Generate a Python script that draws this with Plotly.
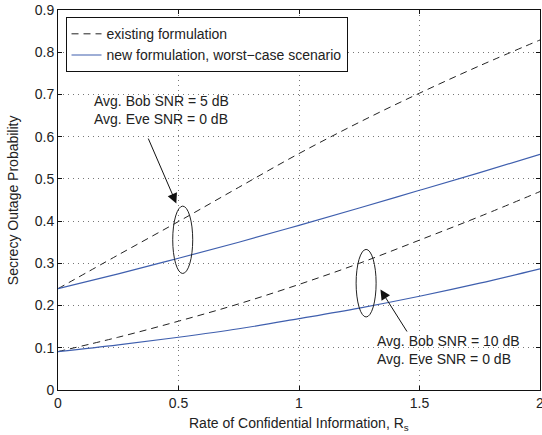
import plotly.graph_objects as go

# Data
rate = [0, 0.25, 0.5, 0.75, 1.0, 1.25, 1.5, 1.75, 2.0]
exist_5db = [0.240, 0.320, 0.399, 0.480, 0.560, 0.634, 0.703, 0.768, 0.829]
new_5db = [0.240, 0.275, 0.312, 0.350, 0.390, 0.431, 0.473, 0.515, 0.558]
exist_10db = [0.091, 0.125, 0.163, 0.204, 0.250, 0.300, 0.355, 0.411, 0.470]
new_10db = [0.091, 0.107, 0.125, 0.145, 0.169, 0.194, 0.222, 0.253, 0.287]

x_ticks = [0, 0.5, 1, 1.5, 2]
x_tick_text = ["0", "0.5", "1", "1.5", "2"]
y_ticks = [0, 0.1, 0.2, 0.3, 0.4, 0.5, 0.6, 0.7, 0.8, 0.9]
y_tick_text = ["0", "0.1", "0.2", "0.3", "0.4", "0.5", "0.6", "0.7", "0.8", "0.9"]

FONT = "Liberation Sans, Arial, Helvetica, sans-serif"
FS = 14
BLUE = "#3f5fae"
DASH = "#222222"

fig = go.Figure()
fig.add_trace(go.Scatter(x=rate, y=exist_5db, mode="lines", name="existing formulation",
                         line=dict(color=DASH, width=1, dash="7px,5px", shape="spline"),
                         legendgroup="a"))
fig.add_trace(go.Scatter(x=rate, y=new_5db, mode="lines",
                         name="new formulation, worst\u2212case scenario",
                         line=dict(color=BLUE, width=1.2, shape="spline"), legendgroup="b"))
fig.add_trace(go.Scatter(x=rate, y=exist_10db, mode="lines", showlegend=False,
                         line=dict(color=DASH, width=1, dash="7px,5px", shape="spline"),
                         legendgroup="a"))
fig.add_trace(go.Scatter(x=rate, y=new_10db, mode="lines", showlegend=False,
                         line=dict(color=BLUE, width=1.2, shape="spline"), legendgroup="b"))

# Ellipses
fig.add_shape(type="circle", xref="x", yref="y", x0=0.476, x1=0.559, y0=0.276, y1=0.4355,
              line=dict(color="#222", width=1))
fig.add_shape(type="circle", xref="x", yref="y", x0=1.237, x1=1.320, y0=0.173, y1=0.333,
              line=dict(color="#222", width=1))

# Arrows
fig.add_annotation(x=0.491, y=0.442, ax=0.372, ay=0.599, xref="x", yref="y",
                   axref="x", ayref="y", text="", showarrow=True, arrowhead=2,
                   arrowsize=2, arrowwidth=1, arrowcolor="#111", standoff=0, startstandoff=0)
fig.add_annotation(x=1.338, y=0.238, ax=1.452, ay=0.135, xref="x", yref="y",
                   axref="x", ayref="y", text="", showarrow=True, arrowhead=2,
                   arrowsize=2, arrowwidth=1, arrowcolor="#111", standoff=0, startstandoff=0)

# Texts
fig.add_annotation(x=0.139, y=0.663, xref="x", yref="y", xanchor="left", yanchor="middle",
                   align="left", showarrow=False,
                   text="Avg. Bob SNR = 5 dB<br>Avg. Eve SNR = 0 dB",
                   font=dict(family=FONT, size=FS, color="#222"))
fig.add_annotation(x=1.315, y=0.094, xref="x", yref="y", xanchor="left", yanchor="middle",
                   align="left", showarrow=False,
                   text="Avg. Bob SNR = 10 dB<br>Avg. Eve SNR = 0 dB",
                   font=dict(family=FONT, size=FS, color="#222"))

# Axis titles
fig.add_annotation(x=0.5, y=-0.09, xref="paper", yref="paper", xanchor="center",
                   yanchor="middle", showarrow=False,
                   text="Rate of Confidential Information, R<sub>s</sub>",
                   font=dict(family=FONT, size=FS, color="#222"))
fig.add_annotation(x=-0.093, y=0.5, xref="paper", yref="paper", xanchor="center",
                   yanchor="middle", showarrow=False, textangle=-90,
                   text="Secrecy Outage Probability",
                   font=dict(family=FONT, size=FS, color="#222"))

fig.update_layout(
    width=542, height=435,
    margin=dict(l=58, r=2, t=10, b=45, autoexpand=False),
    paper_bgcolor="white", plot_bgcolor="white",
    font=dict(family=FONT, size=FS, color="#222"),
    legend=dict(x=0.0156, y=0.981, xanchor="left", yanchor="top",
                bgcolor="white", bordercolor="#111", borderwidth=1,
                font=dict(family=FONT, size=FS, color="#222"),
                tracegroupgap=0, itemwidth=30),
    xaxis=dict(range=[0, 2], tickvals=x_ticks, ticktext=x_tick_text, automargin=False,
               ticklabeloverflow="allow",
               showgrid=True, gridcolor="#777", griddash="1px,4px", gridwidth=1,
               showline=True, linecolor="#111", linewidth=1, mirror="ticks",
               ticks="inside", ticklen=4, tickcolor="#111", zeroline=False,
               tickfont=dict(family=FONT, size=FS, color="#222")),
    yaxis=dict(range=[0, 0.9], tickvals=y_ticks, ticktext=y_tick_text, automargin=False,
               ticklabeloverflow="allow",
               showgrid=True, gridcolor="#777", griddash="1px,4px", gridwidth=1,
               showline=True, linecolor="#111", linewidth=1, mirror="ticks",
               ticks="inside", ticklen=4, tickcolor="#111", zeroline=False,
               tickfont=dict(family=FONT, size=FS, color="#222")),
)

fig.write_html("out.html", config={"displayModeBar": False},
               post_script="document.body.style.margin='0';document.body.style.overflow='hidden';")
